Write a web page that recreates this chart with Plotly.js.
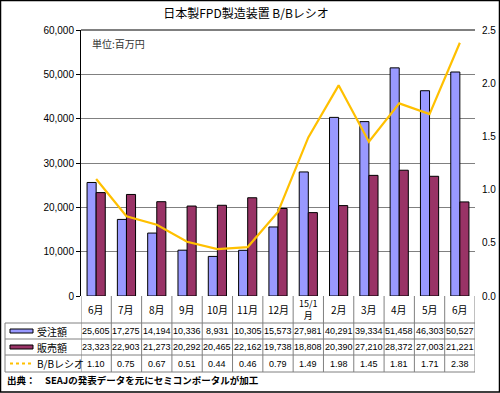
<!DOCTYPE html>
<html><head><meta charset="utf-8">
<script src="https://cdn.plot.ly/plotly-3.0.1.min.js"></script>
<style>body{margin:0;padding:0;background:#fff}#chart{width:500px;height:393px}</style>
</head><body><div id="chart"></div>
<script>
const months = ["6月","7月","8月","9月","10月","11月","12月","15/1<br>月","2月","3月","4月","5月","6月"];
const orders = [25605,17275,14194,10336,8931,10305,15573,27981,40291,39334,51458,46303,50527];
const sales = [23323,22903,21273,20292,20465,22162,19738,18808,20390,27210,28372,27003,21221];
const bbRatio = [1.10,0.75,0.67,0.51,0.44,0.46,0.79,1.49,1.98,1.45,1.81,1.71,2.38];
const seriesNames = ["受注額","販売額","B/Bレシオ"];
const titleText = "日本製FPD製造装置 B/Bレシオ";
const unitText = "単位:百万円";
const sourceText = "出典：　SEAJの発表データを元にセミコンポータルが加工";

const L=81, R=475, T=30, B=296, W=500, H=393;
const pw=R-L, ph=B-T;
const px = X => (X-L)/pw;       // pixel x -> paper
const py = Y => (B-Y)/ph;       // pixel y -> paper
const idx = months.map((_,i)=>i);

const colOrders="#9999FF", colSales="#993366", colLine="#FFC000", gridCol="#808080";
const font="Liberation Sans, Arial, sans-serif";
const jfont="Noto Sans CJK JP, sans-serif";

const traces = [
 {type:"bar", x:idx, y:orders, name:seriesNames[0], marker:{color:colOrders,line:{color:"#000",width:1}}},
 {type:"bar", x:idx, y:sales, name:seriesNames[1], marker:{color:colSales,line:{color:"#000",width:1}}},
 {type:"scatter", mode:"lines", x:idx, y:bbRatio, yaxis:"y2", name:seriesNames[2], line:{color:colLine,width:2.2}}
];

const shapes=[], annotations=[];
const rowY=[296,323,339,355,372];
for(let k=1;k<rowY.length;k++){
  shapes.push({type:"line",xref:"paper",yref:"paper",x0:px(5),x1:px(R),y0:py(rowY[k]),y1:py(rowY[k]),line:{color:gridCol,width:1}});
}
for(let i=0;i<=months.length;i++){
  shapes.push({type:"line",xref:"x",yref:"paper",x0:i-0.5,x1:i-0.5,y0:py(rowY[0]),y1:py(rowY[4]),line:{color:gridCol,width:1}});
}
shapes.push({type:"line",xref:"paper",yref:"paper",x0:px(5),x1:px(5),y0:py(rowY[1]),y1:py(rowY[4]),line:{color:gridCol,width:1}});
const midY = k => (rowY[k]+rowY[k+1])/2;
shapes.push({type:"rect",xref:"paper",yref:"paper",x0:px(10),x1:px(33),y0:py(midY(1)-2),y1:py(midY(1)+2),fillcolor:colOrders,line:{color:"#000",width:1}});
shapes.push({type:"rect",xref:"paper",yref:"paper",x0:px(10),x1:px(33),y0:py(midY(2)-2),y1:py(midY(2)+2),fillcolor:colSales,line:{color:"#000",width:1}});
shapes.push({type:"line",xref:"paper",yref:"paper",x0:px(10),x1:px(34),y0:py(midY(3)),y1:py(midY(3)),line:{color:colLine,width:2,dash:"dot"}});
shapes.push({type:"rect",xref:"paper",yref:"paper",x0:px(0.5),x1:px(W-0.5),y0:py(H-1),y1:py(0.5),line:{color:"#000",width:1.5}});

months.forEach((m,i)=>{
  const two = m.indexOf("<br>")>=0;
  annotations.push({xref:"x",yref:"paper",x:i,y:py(midY(0)),text:m,showarrow:false,font:{family:jfont,size:two?9:10,color:"#000"},xanchor:"center",yanchor:"middle"});
});
const fmt = v => v.toLocaleString("en-US");
const nfont = {family:font,size:9,color:"#000"};
orders.forEach((v,i)=>annotations.push({xref:"x",yref:"paper",x:i,y:py(midY(1)),text:fmt(v),showarrow:false,font:nfont,xanchor:"center",yanchor:"middle"}));
sales.forEach((v,i)=>annotations.push({xref:"x",yref:"paper",x:i,y:py(midY(2)),text:fmt(v),showarrow:false,font:nfont,xanchor:"center",yanchor:"middle"}));
bbRatio.forEach((v,i)=>annotations.push({xref:"x",yref:"paper",x:i,y:py(midY(3)),text:v.toFixed(2),showarrow:false,font:nfont,xanchor:"center",yanchor:"middle"}));
seriesNames.forEach((n,k)=>annotations.push({xref:"paper",yref:"paper",x:px(35),y:py(midY(k+1)),text:n,showarrow:false,font:{family:jfont,size:10,color:"#000"},xanchor:"left",yanchor:"middle"}));
annotations.push({xref:"paper",yref:"paper",x:px(90),y:py(43),text:unitText,showarrow:false,font:{family:jfont,size:10,color:"#333"},xanchor:"left",yanchor:"middle"});
annotations.push({xref:"paper",yref:"paper",x:px(5),y:py(380),text:"<b>"+sourceText+"</b>",showarrow:false,font:{family:jfont,size:9.5,color:"#000"},xanchor:"left",yanchor:"middle"});

const layout = {
  width:W, height:H,
  margin:{l:L,r:W-R,t:T,b:H-B,pad:0},
  paper_bgcolor:"#fff", plot_bgcolor:"#fff",
  showlegend:false,
  title:{text:titleText,font:{family:jfont,size:12,color:"#000"},x:0.492,xanchor:"center",y:1-14/H,yanchor:"middle",xref:"container",yref:"container"},
  barmode:"group", bargap:0.4, bargroupgap:0,
  xaxis:{type:"linear",range:[-0.5,months.length-0.5],showticklabels:false,showgrid:false,zeroline:false,showline:false,ticks:"",fixedrange:true},
  yaxis:{range:[0,60000],dtick:10000,tickformat:",d",showgrid:true,gridcolor:gridCol,gridwidth:1,zeroline:false,showline:true,linecolor:"#000",linewidth:1,ticks:"outside",ticklen:4,tickcolor:"#000",tickfont:{family:font,size:10,color:"#000"}},
  yaxis2:{range:[0,2.5],dtick:0.5,tickformat:".1f",overlaying:"y",side:"right",showgrid:false,zeroline:false,showline:false,ticks:"",tickfont:{family:font,size:10,color:"#000"},ticklabelstandoff:6},
  shapes:shapes, annotations:annotations
};
layout.shapes.push({type:"line",xref:"paper",yref:"paper",x0:0,x1:1,y0:1,y1:1,line:{color:"#000",width:1}});
Plotly.newPlot("chart",traces,layout,{displayModeBar:false,staticPlot:true});
</script></body></html>
